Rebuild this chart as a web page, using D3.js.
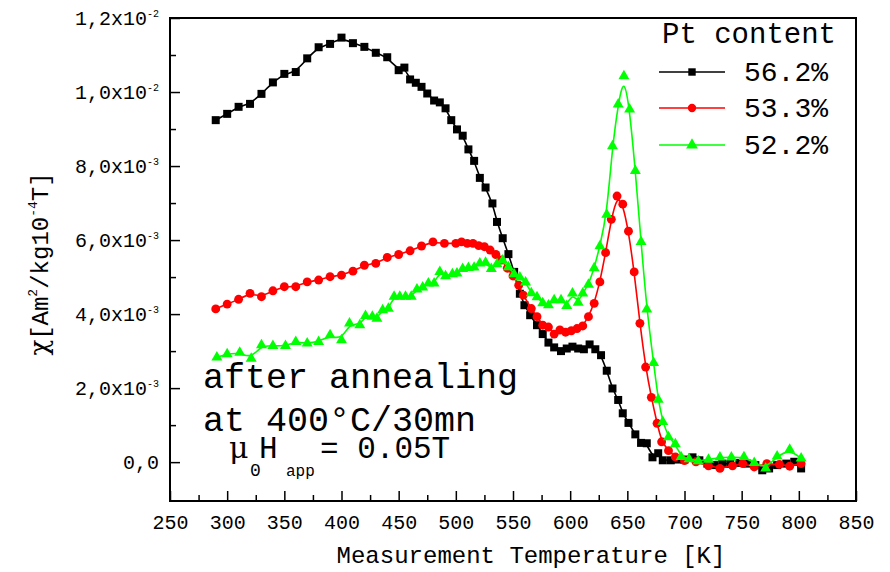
<!DOCTYPE html>
<html>
<head>
<meta charset="utf-8">
<script src="https://cdn.jsdelivr.net/npm/d3@7"></script>
<style>
body { margin: 0; background: #fff; }
text { font-family: "Liberation Mono", "Courier New", monospace; fill: #000; }
</style>
</head>
<body>
<div id="chart"></div>
<script>
// susceptibility in units of 1e-3 Am2/kg10-4T, temperatures in K

// Pt 56.2% (black squares)
var t562 = [290, 300, 310, 320, 330, 340, 350, 360, 370, 380, 390, 400, 410, 420, 430, 440, 450, 455, 460, 465,
    470, 475, 481, 486, 491, 496, 501, 506, 511, 516, 521, 526, 532, 536, 541, 546, 551, 556, 560, 565,
    571, 576, 581, 586, 592, 597, 602, 607, 612, 617, 622, 627, 632, 637, 642, 646, 651, 657, 662, 667,
    672, 677, 681, 688, 694, 700, 707, 713, 720, 726, 733, 740, 748, 755, 762, 768, 774, 781, 789, 796, 802];
var chi562 = [9.24, 9.41, 9.60, 9.68, 9.95, 10.26, 10.49, 10.54, 10.91, 11.21, 11.30, 11.47, 11.32, 11.22, 11.06, 10.94, 10.59, 10.66, 10.34, 10.25,
    10.14, 9.96, 9.77, 9.72, 9.56, 9.24, 8.99, 8.82, 8.45, 8.14, 7.68, 7.42, 6.99, 6.49, 6.05, 5.62, 5.14, 4.55, 4.24, 3.97,
    3.70, 3.46, 3.23, 3.10, 3.00, 3.07, 3.12, 3.07, 3.05, 3.18, 3.05, 2.89, 2.47, 1.99, 1.68, 1.32, 1.06, 0.75, 0.52, 0.51,
    0.13, 0.24, 0.05, 0.05, 0.07, 0.07, 0.13, 0.05, -0.04, -0.08, -0.04, -0.05, -0.02, -0.04, -0.08, -0.22, -0.17, -0.08, -0.04, 0.01, -0.17];

// Pt 53.3% (red circles)
var t533 = [290, 300, 310, 320, 330, 340, 350, 360, 370, 380, 390, 400, 410, 420, 430, 440, 450, 460, 470, 480,
    490, 500, 505, 510, 515, 520, 525, 530, 535, 540, 545, 550, 555, 559, 566, 571, 576, 581, 586, 591,
    596, 601, 606, 611, 616, 621, 626, 631, 636, 641, 646, 651, 656, 661, 666, 671, 676, 680, 686, 692,
    700, 710, 721, 731, 742, 751, 761, 772, 783, 792, 802];
var chi533 = [4.14, 4.27, 4.40, 4.56, 4.47, 4.63, 4.74, 4.74, 4.87, 4.92, 5.01, 5.05, 5.16, 5.32, 5.37, 5.53, 5.61, 5.71, 5.84, 5.95,
    5.91, 5.91, 5.95, 5.91, 5.91, 5.85, 5.82, 5.73, 5.61, 5.46, 5.24, 5.03, 4.78, 4.51, 4.15, 3.93, 3.70, 3.65, 3.46, 3.57,
    3.51, 3.55, 3.61, 3.68, 3.93, 4.29, 4.87, 5.66, 6.56, 7.19, 6.97, 6.24, 5.14, 3.75, 2.57, 1.75, 1.05, 0.55, 0.31, 0.14,
    0.04, 0.01, -0.10, -0.17, -0.10, -0.04, -0.13, -0.04, -0.06, -0.11, -0.04];

// Pt 52.2% (green triangles)
var t522 = [291, 300, 311, 321, 330, 340, 351, 360, 370, 380, 390, 400, 407, 416, 421, 427, 431, 436, 441, 446,
    451, 456, 461, 466, 471, 476, 481, 486, 491, 497, 501, 506, 511, 516, 521, 526, 531, 536, 541, 546,
    551, 556, 561, 566, 571, 576, 581, 586, 592, 597, 602, 607, 611, 616, 621, 626, 632, 637, 642, 647,
    652, 657, 662, 667, 673, 677, 681, 686, 692, 697, 704, 712, 721, 731, 741, 752, 761, 771, 781, 792, 802];
var chi522 = [2.83, 2.92, 2.96, 2.80, 3.16, 3.14, 3.14, 3.25, 3.21, 3.25, 3.43, 3.30, 3.75, 3.70, 3.95, 3.93, 3.88, 4.11, 4.15, 4.47,
    4.47, 4.47, 4.47, 4.67, 4.72, 4.83, 4.83, 5.14, 5.03, 5.08, 5.10, 5.22, 5.25, 5.26, 5.37, 5.39, 5.22, 5.35, 5.45, 5.27,
    5.08, 4.99, 4.86, 4.57, 4.46, 4.30, 4.24, 4.38, 4.38, 4.22, 4.56, 4.31, 4.56, 4.80, 5.24, 5.84, 6.69, 8.54, 9.67, 10.43,
    9.53, 7.87, 5.95, 4.13, 2.68, 1.69, 1.09, 0.68, 0.49, 0.14, 0.08, 0.03, 0.07, 0.13, 0.13, 0.14, -0.02, -0.17, 0.16, 0.34, 0.10];

var seriesNames = ["56.2%", "53.3%", "52.2%"];
var seriesColors = ["#000000", "#ff0000", "#00ff00"];
var seriesSymbols = [d3.symbolSquare, d3.symbolCircle, d3.symbolTriangle];
var seriesT = [t562, t533, t522];
var seriesChi = [chi562, chi533, chi522];

var xTicks = d3.range(250, 851, 50);
var yTicks = [0, 2, 4, 6, 8, 10, 12];
var yTickMain = ["0,0", "2,0x10", "4,0x10", "6,0x10", "8,0x10", "1,0x10", "1,2x10"];
var yTickExp = ["", "-3", "-3", "-3", "-3", "-2", "-2"];

var width = 890, height = 572;
// plot frame (don't use "top" as a name, window.top is read only)
var pLeft = 170, pRight = 856, pTop = 18, pBottom = 501;

var svg = d3.select("#chart").append("svg")
    .attr("width", width)
    .attr("height", height);

var x = d3.scaleLinear().domain([250, 850]).range([pLeft, pRight]);
var y = d3.scaleLinear().domain([-1.05, 12]).range([pBottom, pTop]);

// minor ticks
svg.append("g")
    .attr("transform", "translate(0," + pBottom + ")")
    .call(d3.axisBottom(x).tickValues(d3.range(275, 850, 50)).tickSize(-6).tickFormat(""))
    .call(g => g.select(".domain").remove())
    .selectAll("line").attr("stroke-width", 1.5);
svg.append("g")
    .attr("transform", "translate(" + pLeft + ",0)")
    .call(d3.axisLeft(y).tickValues([1, 3, 5, 7, 9, 11]).tickSize(-6).tickFormat(""))
    .call(g => g.select(".domain").remove())
    .selectAll("line").attr("stroke-width", 1.5);

// major x ticks + labels
var xAxis = svg.append("g")
    .attr("transform", "translate(0," + pBottom + ")")
    .call(d3.axisBottom(x).tickValues(xTicks).tickSizeInner(-10).tickSizeOuter(0).tickPadding(14).tickFormat(d3.format("d")));
xAxis.select(".domain").remove();
xAxis.selectAll("line").attr("stroke-width", 1.5);
xAxis.selectAll("text")
    .attr("font-family", "Liberation Mono, Courier New, monospace")
    .attr("font-size", 20);

// major y ticks + labels with exponent
var yAxis = svg.append("g")
    .attr("transform", "translate(" + pLeft + ",0)")
    .call(d3.axisLeft(y).tickValues(yTicks).tickSizeInner(-10).tickSizeOuter(0).tickPadding(11)
        .tickFormat(function (d, i) { return yTickMain[i]; }));
yAxis.select(".domain").remove();
yAxis.selectAll("line").attr("stroke-width", 1.5);
yAxis.selectAll("text")
    .attr("font-family", "Liberation Mono, Courier New, monospace")
    .attr("font-size", 20)
    .each(function (d, i) {
        if (yTickExp[i]) {
            d3.select(this).append("tspan")
                .attr("dy", -8)
                .attr("font-size", 10)
                .text(yTickExp[i]);
        }
    });

// frame
svg.append("rect")
    .attr("x", pLeft)
    .attr("y", pTop)
    .attr("width", pRight - pLeft)
    .attr("height", pBottom - pTop)
    .attr("fill", "none")
    .attr("stroke", "#000")
    .attr("stroke-width", 2);

// axis titles
svg.append("text")
    .attr("x", 531)
    .attr("y", 563)
    .attr("text-anchor", "middle")
    .attr("font-size", 24)
    .text("Measurement Temperature [K]");

var yt = svg.append("text")
    .attr("transform", "translate(48,264) rotate(-90)")
    .attr("text-anchor", "middle")
    .attr("font-size", 24);
yt.append("tspan").attr("font-family", "DejaVu Serif, serif").attr("font-size", 26).text("χ");
yt.append("tspan").text("[Am");
yt.append("tspan").attr("dy", -11).attr("font-size", 13).text("2");
yt.append("tspan").attr("dy", 11).text("/kg10");
yt.append("tspan").attr("dy", -11).attr("font-size", 13).text("-4");
yt.append("tspan").attr("dy", 11).text("T]");

// series
var line = d3.line()
    .x(function (d) { return x(d.t); })
    .y(function (d) { return y(d.v); })
    .curve(d3.curveBasis);

seriesNames.forEach(function (name, i) {
    var pts = seriesT[i].map(function (t, j) { return { t: t, v: seriesChi[i][j] }; });
    var g = svg.append("g").attr("class", "series");
    g.append("path")
        .datum(pts)
        .attr("d", line)
        .attr("fill", "none")
        .attr("stroke", seriesColors[i])
        .attr("stroke-width", 1.6);
    var sym = d3.symbol().type(seriesSymbols[i]).size(i == 2 ? 52 : (i == 0 ? 64 : 62));
    g.selectAll("path.pt")
        .data(pts)
        .enter()
        .append("path")
        .attr("class", "pt")
        .attr("d", sym)
        .attr("fill", seriesColors[i])
        .attr("transform", function (d) { return "translate(" + x(d.t) + "," + y(d.v) + ")"; });
});

// legend
svg.append("text")
    .attr("x", 749)
    .attr("y", 43)
    .attr("text-anchor", "middle")
    .attr("font-size", 29)
    .text("Pt content");

var legendY = [72, 108, 145];
seriesNames.forEach(function (name, i) {
    svg.append("line")
        .attr("x1", 659).attr("x2", 725)
        .attr("y1", legendY[i]).attr("y2", legendY[i])
        .attr("stroke", seriesColors[i])
        .attr("stroke-width", 1.6);
    svg.append("path")
        .attr("d", d3.symbol().type(seriesSymbols[i]).size(i == 2 ? 60 : 55))
        .attr("fill", seriesColors[i])
        .attr("transform", "translate(692," + legendY[i] + ")");
    svg.append("text")
        .attr("x", 744)
        .attr("y", legendY[i] + 9)
        .attr("font-size", 28)
        .text(name);
});

// annotation
svg.append("text").attr("x", 203).attr("y", 388).attr("font-size", 35).text("after annealing");
svg.append("text").attr("x", 203).attr("y", 431).attr("font-size", 35).text("at 400°C/30mn");
var field = svg.append("text").attr("x", 229).attr("y", 458).attr("font-size", 31);
field.append("tspan").attr("font-family", "DejaVu Serif, serif").attr("font-size", 30).text("μ");
field.append("tspan").attr("x", 250).attr("dy", 18).attr("font-size", 18).text("0");
field.append("tspan").attr("x", 259).attr("dy", -18).text("H");
field.append("tspan").attr("x", 286).attr("dy", 18).attr("font-size", 16).text("app");
field.append("tspan").attr("x", 320).attr("dy", -18).text("= 0.05T");
</script>
</body>
</html>
